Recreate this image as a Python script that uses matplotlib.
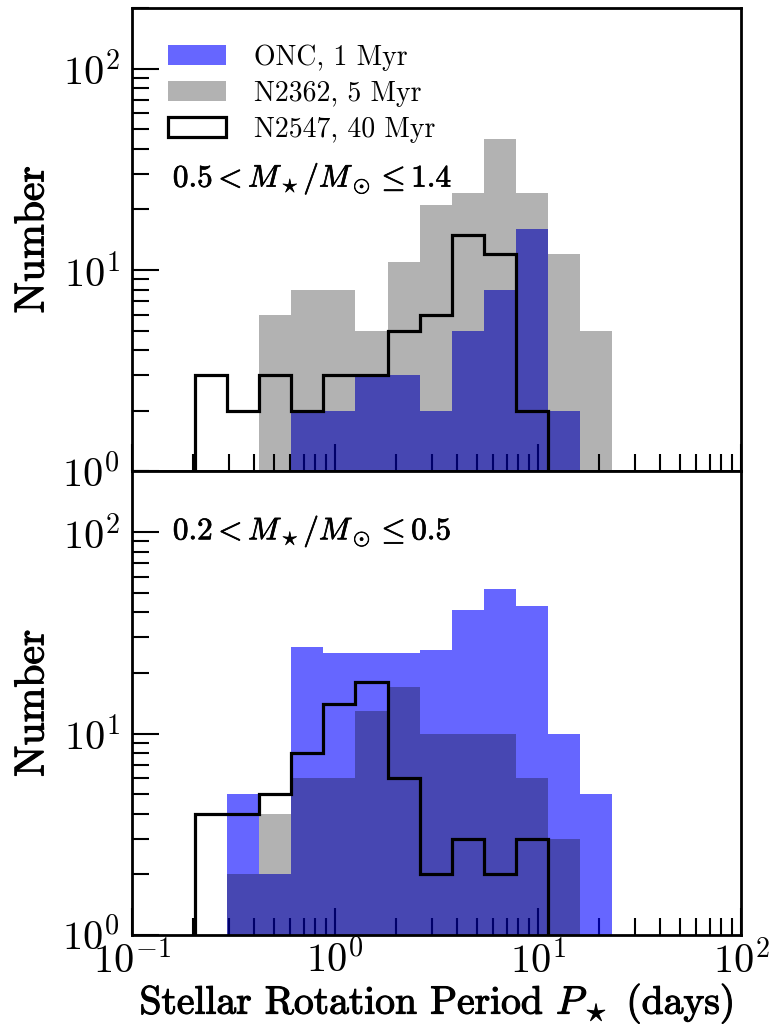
import numpy as np
import matplotlib.pyplot as plt
import matplotlib.patheffects as pe

plt.rcParams['font.family'] = 'cmr10'
plt.rcParams['mathtext.fontset'] = 'cm'
plt.rcParams['axes.formatter.use_mathtext'] = True

# logarithmic period bins (days)
bin_edges = np.logspace(-0.69, 1.366, 14)

# 0.5 < M/Msun <= 1.4
onc_high = [0, 0, 0, 2, 2, 3, 3, 2, 5, 8, 16, 2, 0]
n2362_high = [0, 0, 6, 8, 8, 5, 11, 21, 24, 45, 24, 12, 5]
n2547_high = [3, 2, 3, 2, 3, 3, 5, 6, 15, 12, 2, 0, 0]

# 0.2 < M/Msun <= 0.5
onc_low = [0, 5, 2, 27, 25, 25, 25, 26, 41, 52, 43, 10, 5]
n2362_low = [0, 2, 4, 6, 6, 13, 17, 10, 10, 10, 6, 3, 0]
n2547_low = [4, 4, 5, 8, 14, 18, 6, 2, 3, 2, 3, 0, 0]

mass_labels = [r'$\mathbf{0.5} < M_\star/M_\odot \leq \mathbf{1.4}$',
               r'$\mathbf{0.2} < M_\star/M_\odot \leq \mathbf{0.5}$']

centers = np.sqrt(bin_edges[:-1] * bin_edges[1:])

fig, axes = plt.subplots(2, 1, sharex=True, figsize=(7.69, 10.28), dpi=100)
fig.subplots_adjust(left=0.1717, right=0.9636, top=0.9922, bottom=0.0905, hspace=0)

panels = [(onc_high, n2362_high, n2547_high), (onc_low, n2362_low, n2547_low)]
text_y = [0.632, 0.871]

for ax, (onc, n2362, n2547), lab, ty in zip(axes, panels, mass_labels, text_y):
    ax.set_xscale('log')
    ax.set_yscale('log')
    ax.set_axisbelow(True)
    ax.hist(centers, bins=bin_edges, weights=onc, histtype='stepfilled',
            color='blue', alpha=0.6, label='ONC, 1 Myr')
    ax.hist(centers, bins=bin_edges, weights=n2362, histtype='stepfilled',
            color='k', alpha=0.3, label='N2362, 5 Myr')
    ax.hist(centers, bins=bin_edges, weights=n2547, histtype='step',
            color='k', lw=2.3, label='N2547, 40 Myr')
    ax.set_xlim(0.1, 100)
    ax.set_ylim(1, 200)
    ax.set_ylabel('Number', fontsize=30, labelpad=8,
                  path_effects=[pe.withStroke(linewidth=0.8, foreground='k')])
    ax.text(0.067, ty, lab, transform=ax.transAxes, fontsize=22.5, va='center',
            path_effects=[pe.withStroke(linewidth=0.5, foreground='k')])
    ax.tick_params(which='both', direction='in', top=False, right=False,
                   labelsize=29, width=1.5)
    ax.tick_params(which='major', length=19.5)
    ax.tick_params(which='minor', length=12.5)
    ax.tick_params(axis='x', pad=4)
    ax.tick_params(axis='y', pad=9)
    for sp in ax.spines.values():
        sp.set_linewidth(2)

axes[0].legend(loc='upper left', frameon=False, fontsize=20, borderaxespad=0.9,
               handlelength=2.1, handletextpad=1.0, labelspacing=0.35)
axes[1].set_xlabel(r'Stellar Rotation Period $P_\star$ (days)', fontsize=28.5,
                   labelpad=0,
                   path_effects=[pe.withStroke(linewidth=0.8, foreground='k')])

fig.savefig('out.png', dpi=100)
